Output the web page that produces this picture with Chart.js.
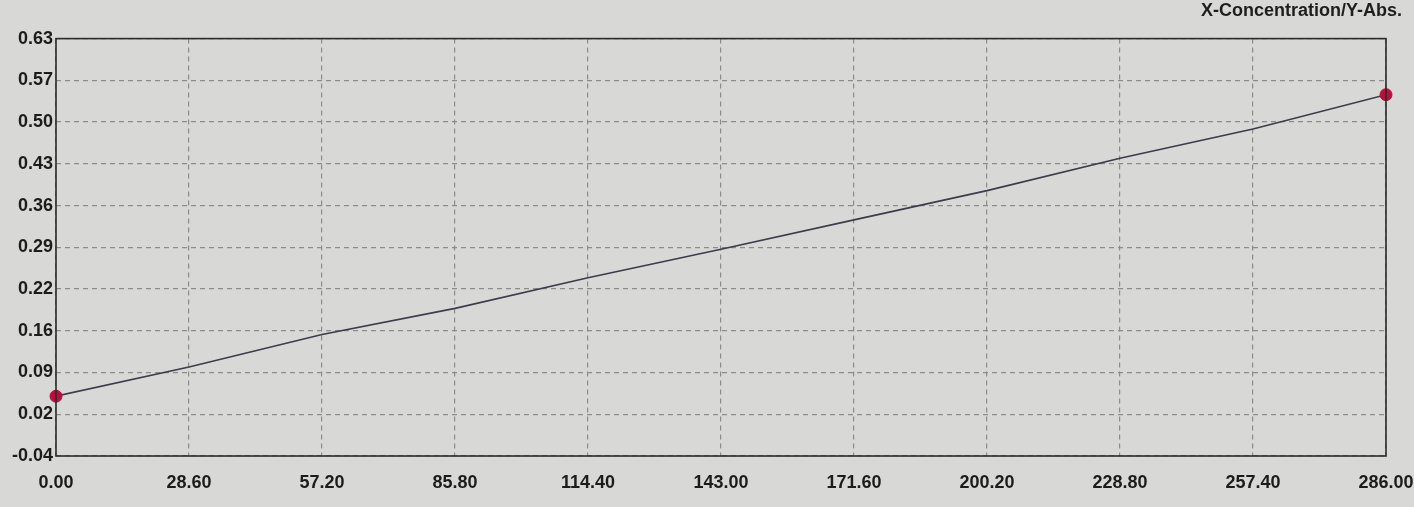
<!DOCTYPE html>
<html>
<head>
<meta charset="utf-8">
<script src="https://cdn.jsdelivr.net/npm/chart.js@4/dist/chart.umd.min.js"></script>
<style>
  html, body { margin: 0; padding: 0; background: #d8d8d6; }
  #wrap { width: 1414px; height: 507px; }
</style>
</head>
<body>
<div id="wrap"><canvas id="myChart" width="1414" height="507"></canvas></div>
<script>
// values
const concentrations = [0, 28.6, 57.2, 85.8, 114.4, 143, 171.6, 200.2, 228.8, 257.4, 286];
const absorbance     = [0.056, 0.103, 0.155, 0.197, 0.246, 0.292, 0.339, 0.386, 0.438, 0.485, 0.540];
const standardX = [0, 286];
const standardY = [0.056, 0.540];

const xTickValues = [0, 28.6, 57.2, 85.8, 114.4, 143, 171.6, 200.2, 228.8, 257.4, 286];
const xTickLabels = ['0.00','28.60','57.20','85.80','114.40','143.00','171.60','200.20','228.80','257.40','286.00'];
const yTickLabels = ['-0.04','0.02','0.09','0.16','0.22','0.29','0.36','0.43','0.50','0.57','0.63'];
const Y_MIN = -0.04, Y_MAX = 0.63;

const FONT = { family: '"Liberation Sans", Arial, sans-serif', size: 18, weight: 'bold' };

// box round the plot area
const frame = {
    id: 'frame',
    afterDraw(chart) {
        const { ctx, chartArea: a } = chart;
        ctx.save();
        ctx.setLineDash([]);
        ctx.strokeStyle = '#2b2b2b';
        ctx.lineWidth = 1.6;
        ctx.strokeRect(a.left, a.top, a.right - a.left, a.bottom - a.top);
        ctx.restore();
    }
};

new Chart(document.getElementById('myChart'), {
    type: 'scatter',
    data: {
        datasets: [
            {
                label: 'fit',
                data: concentrations.map((x, i) => ({ x, y: absorbance[i] })),
                showLine: true,
                borderColor: '#3c3c4c',
                borderWidth: 1.6,
                pointRadius: 0,
                order: 2,
            },
            {
                label: 'std',
                data: standardX.map((x, i) => ({ x, y: standardY[i] })),
                showLine: false,
                pointRadius: 6,
                backgroundColor: '#b3123c',
                borderColor: '#b3123c',
                order: 1,
                clip: false,
            }
        ]
    },
    options: {
        responsive: false,
        animation: false,
        layout: { padding: { top: 0, right: 12, bottom: 0, left: 0 } },
        plugins: {
            legend: { display: false },
            tooltip: { enabled: false },
            title: {
                display: true,
                text: 'X-Concentration/Y-Abs.',
                align: 'end',
                color: '#1e1e1e',
                font: { family: FONT.family, size: 18, weight: 'bold' },
                padding: { top: 0, bottom: 17 },
            }
        },
        scales: {
            x: {
                type: 'linear',
                min: 0,
                max: 286,
                afterBuildTicks(scale) { scale.ticks = xTickValues.map(v => ({ value: v })); },
                afterFit(scale) {
                    scale.height = 51;
                    scale.paddingRight = 28;
                    scale.paddingLeft = 0;
                },
                ticks: {
                    autoSkip: false,
                    maxRotation: 0,
                    padding: 16,
                    color: '#1c1c1c',
                    font: FONT,
                    callback: (v, i) => xTickLabels[i],
                },
                grid: { color: '#8c8c8c', lineWidth: 1.2, drawTicks: false },
                border: { display: false, dash: [5, 4] },
            },
            y: {
                min: Y_MIN,
                max: Y_MAX,
                afterBuildTicks(scale) {
                    scale.ticks = yTickLabels.map((l, i) => ({ value: Y_MIN + i * (Y_MAX - Y_MIN) / (yTickLabels.length - 1) }));
                },
                afterFit(scale) { scale.width = 56; },
                ticks: {
                    autoSkip: false,
                    padding: 3,
                    color: '#1c1c1c',
                    font: FONT,
                    callback: (v, i) => yTickLabels[i],
                },
                grid: { color: '#8c8c8c', lineWidth: 1.2, drawTicks: false },
                border: { display: false, dash: [5, 4] },
            }
        }
    },
    plugins: [frame]
});
</script>
</body>
</html>
